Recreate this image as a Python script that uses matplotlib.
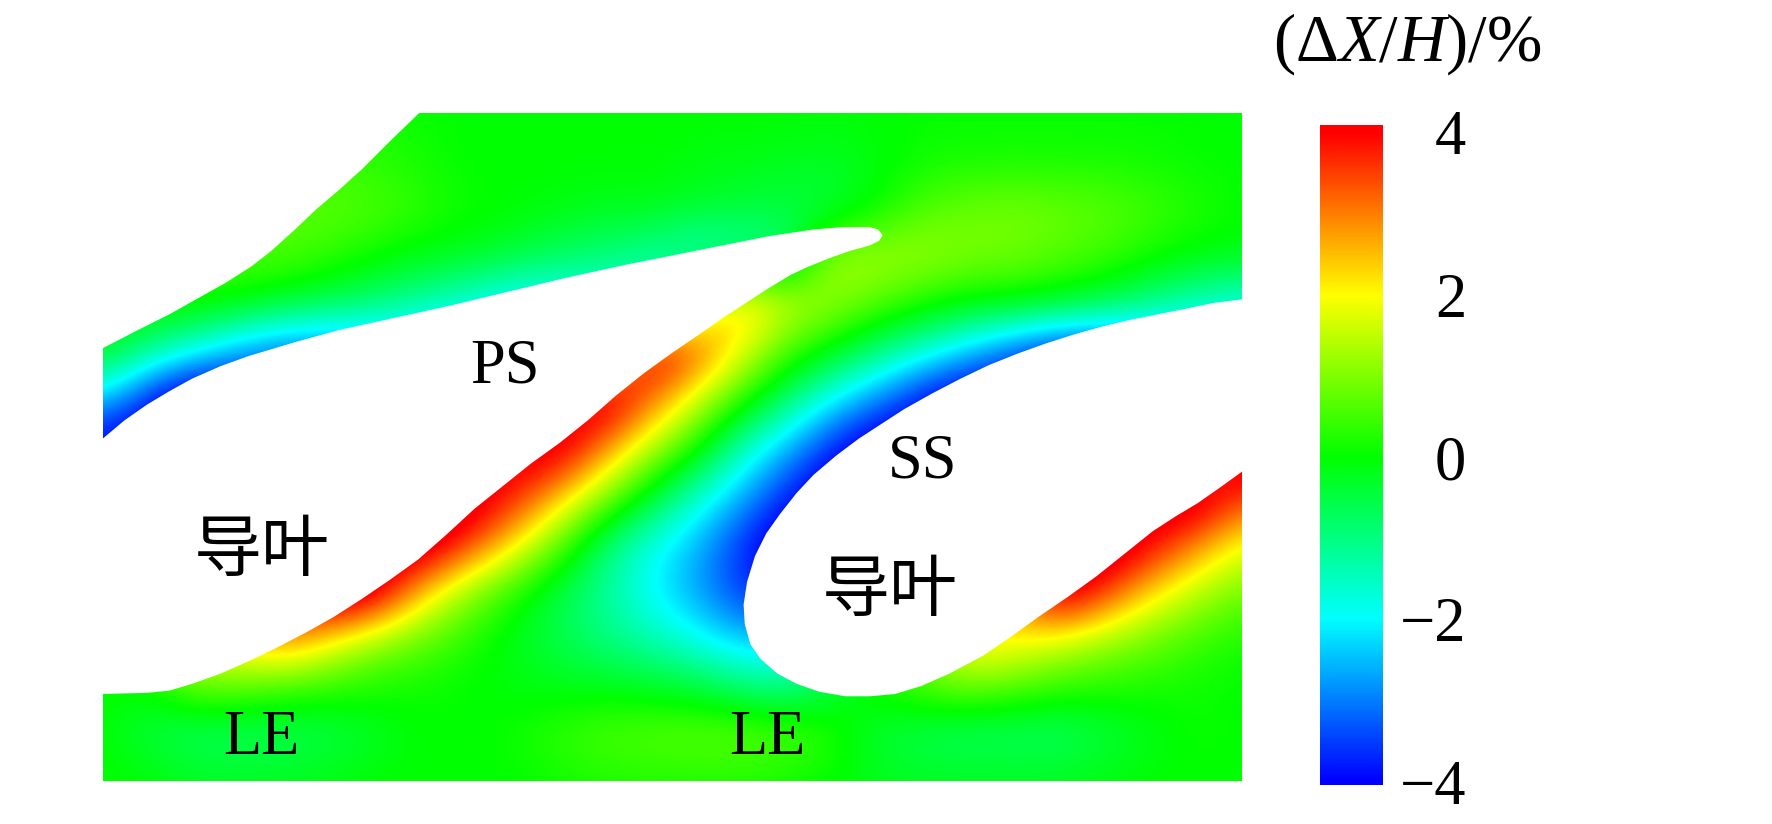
import numpy as np
import matplotlib
matplotlib.use("Agg")
import matplotlib.pyplot as plt
from matplotlib.colors import LinearSegmentedColormap, Normalize
from matplotlib.patches import Rectangle

plt.rcParams['font.family'] = ['Liberation Serif', 'Noto Sans CJK SC', 'DejaVu Sans']
plt.rcParams['mathtext.fontset'] = 'custom'
plt.rcParams['mathtext.rm'] = 'Liberation Serif'
plt.rcParams['mathtext.it'] = 'Liberation Serif:italic'

# x/y of the grid nodes, read in the 1568 wide picture
xs = [91, 131, 171, 211, 251, 291, 331, 371, 411, 451, 491, 531, 571, 611, 651, 691, 731, 771, 811, 851, 891, 931, 971, 1011, 1051, 1098]
ys = [100, 142, 184, 226, 268, 310, 352, 394, 437, 479, 521, 563, 606, 648, 691]

r100 = [.3, .3, .3, .3, .3, .3, .2, .05, 0, 0, 0, 0, 0, 0, 0, 0, -.05, 0, .05, .05, .05, .05, .05, .05, 0, 0]
r142 = [.4, .4, .4, .4, .4, .4, .3, .15, 0, 0, 0, 0, 0, -.1, -.15, -.2, -.25, -.1, .1, .15, .15, .15, .15, .1, .05, 0]
r184 = [.5, .5, .5, .6, .7, .7, .6, .35, .1, 0, -.1, -.2, -.15, -.3, -.4, -.5, -.5, 0, .6, .8, .9, .8, .7, .5, .25, .05]
r226 = [.5, .5, .5, .6, .6, .4, .1, -.1, -.2, -.4, -.7, -.9, -1.2, -1.6, -1.4, -1.0, 1.2, 1.3, 1.2, 1.0, .9, .7, .5, .2, 0, -.1]
r268 = [0, .1, .2, 0, -.3, -.6, -.9, -1.3, -1.7, -2.2, -2.2, -2.0, -1.8, 1.0, 2.6, 1.6, 1.2, .7, .3, 0, 0, -.2, -.5, -1.0, -1.5, -1.8]
r310 = [-.1, -1.0, -1.8, -2.7, -3.3, -3.3, -3, -3, -3, -3, -2, 1, 4.5, 3.5, 1.9, .6, -.1, -.9, -1.6, -2.4, -3.3, -4, -4, -3.5, -3, -2.6]
r352 = [-2.3, -3.9, -5, -4.5, -3.5, -3, -3, -2, 0, 2, 4, 4.8, 3.2, 1.7, .4, -.8, -2, -2.9, -4, -4.6, -4.5, -4.5, -4.5, -4, -3.5, -3]
r394 = [-4.5, -4.5, -4, -3, -2, 0, 1, 2, 3, 4.5, 4.6, 3.0, 1.5, .3, -1.4, -2.5, -3.7, -4.6, -4.5, -4, -3, -2, -1, 0, 2, 5]
r437 = [-2, -1, 0, 1, 2, 3, 4, 4.5, 4.8, 3.9, 2.6, 1.2, -.2, -1.5, -2.5, -3.7, -4.6, -4.5, -4, -3, -1, 1, 3, 4.5, 5, 3.6]
r479 = [1, 1, 1, 2, 3, 4, 4.5, 5, 3.7, 2.3, .8, -.8, -1.8, -2.5, -3.6, -4.6, -4, -3, -2, 0, 2, 4, 5, 4.2, 3.0, 1.9]
r521 = [1, 1, 2, 3, 4, 5.5, 4.7, 2.5, 1.2, .3, -.5, -1.2, -2, -2.7, -3.6, -4, -3, -2, -1, 1, 3, 5, 3.7, 2.3, 1.5, .9]
r563 = [.5, 1, 2, 2.5, 3.2, 2.1, 1.3, .8, .3, -.2, -.6, -1, -1.4, -1.9, -2.5, -2.5, -1, 0, 1, 2.5, 2.2, 1.8, 1.3, .9, .5, .2]
r606 = [0, 0, .9, .8, .5, .4, .2, .1, 0, -.1, -.2, -.2, -.3, -.5, -.9, -1.2, -.5, .2, .7, .9, .7, .4, .3, .2, .1, 0]
r648 = [0, -.5, -.8, -.8, -.7, -.6, -.3, 0, 0, .1, .4, .6, .7, .8, .8, .7, .3, -.4, -.7, -.8, -.8, -.8, -.5, -.2, .1, 0]
r691 = [0, 0, -.2, -.2, -.2, -.1, 0, 0, 0, 0, .1, .2, .2, .2, .2, .1, 0, -.2, -.2, -.2, -.2, -.2, -.1, 0, 0, 0]

# white areas
corner_x = [88, 88, 91, 120, 150, 175, 200, 222, 240, 260, 280, 300, 320, 345, 373]
corner_y = [98, 309, 308, 293, 278, 264, 250, 236, 222, 204, 185, 168, 150, 125, 98]
blade1_x = [88, 91, 110, 130, 150, 170, 195, 220, 260, 300, 350, 400, 450, 500, 550, 600, 640, 680, 720, 745, 770, 777, 781, 778, 770, 752, 735, 715, 700, 680, 660, 640, 620, 595, 570, 545, 520, 495, 470, 445, 420, 395, 370, 345, 320, 295, 270, 245, 220, 195, 170, 150, 130, 88]
blade1_y = [390, 388, 372, 358, 346, 335, 324, 315, 303, 292, 281, 270, 258, 246, 235, 225, 217, 209, 203, 201, 201, 203, 208, 213, 217, 222, 228, 236, 243, 255, 268, 281, 295, 312, 330, 350, 372, 392, 410, 430, 450, 473, 495, 513, 530, 546, 560, 573, 585, 596, 605, 611, 613, 614]
blade2_x = [1102, 1098, 1074, 1050, 1025, 1000, 975, 950, 925, 900, 875, 850, 825, 800, 780, 760, 740, 720, 705, 690, 678, 668, 661, 658, 659, 664, 673, 688, 705, 725, 748, 770, 792, 815, 840, 870, 895, 920, 945, 970, 995, 1020, 1040, 1060, 1080, 1098, 1102]
blade2_y = [264, 265, 268, 273, 278, 283, 289, 296, 304, 313, 323, 335, 348, 362, 375, 388, 403, 420, 436, 455, 472, 492, 515, 535, 552, 570, 583, 596, 605, 612, 616, 616, 614, 607, 596, 580, 563, 545, 528, 510, 490, 470, 457, 445, 431, 418, 415]

cmap_colors = ['#0000ff', '#00ffff', '#00ff00', '#ffff00', '#ff0000']
tick_vals = [-4, -2, 0, 2, 4]
tick_labels = ['\u22124', '\u22122', '0', '2', '4']

field = np.array([r100, r142, r184, r226, r268, r310, r352, r394, r437, r479, r521, r563, r606, r648, r691])
cmap = LinearSegmentedColormap.from_list('dx', cmap_colors, N=512)
norm = Normalize(-4, 4)

fig = plt.figure(figsize=(17.72, 8.24), dpi=100)
ax = fig.add_axes([0, 0, 1, 1])
ax.axis('off')

dx = (xs[-1] - xs[0]) / (len(xs) - 1) / 2
dy = (ys[-1] - ys[0]) / (len(ys) - 1) / 2
im = ax.imshow(field, cmap=cmap, norm=norm, interpolation='bicubic', aspect='auto',
               extent=[xs[0] - dx, xs[-1] + dx, ys[-1] + dy, ys[0] - dy])
im.set_clip_path(Rectangle((xs[0], ys[0]), xs[-1] - xs[0], ys[-1] - ys[0], transform=ax.transData))
ax.set_xlim(0, 1568)
ax.set_ylim(729, 0)

ax.fill(corner_x, corner_y, color='white', lw=0)
ax.fill(blade1_x, blade1_y, color='white', lw=0)
ax.fill(blade2_x, blade2_y, color='white', lw=0)

ax.text(447, 325, 'PS', fontsize=45, ha='center', va='center')
ax.text(816, 409, 'SS', fontsize=45, ha='center', va='center')
ax.text(231, 654, 'LE', fontsize=45, ha='center', va='center')
ax.text(679, 654, 'LE', fontsize=45, ha='center', va='center')
ax.text(232, 488, '导叶', fontsize=49, ha='center', va='center', family=['Noto Sans CJK SC'])
ax.text(787, 524, '导叶', fontsize=49, ha='center', va='center', family=['Noto Sans CJK SC'])
ax.text(1245, 39, '(\u0394$\\mathit{X}$/$\\mathit{H}$)/%', fontsize=48, ha='center', va='center')

# colour bar
cax = fig.add_axes([1320 / 1772, 1 - 785 / 824, 63 / 1772, 660 / 824])
grad = np.linspace(4.09, -4.04, 400).reshape(-1, 1)
cax.imshow(grad, cmap=cmap, norm=norm, aspect='auto', extent=[0, 1, -4.04, 4.09])
cax.set_xticks([])
cax.yaxis.tick_right()
cax.set_yticks(tick_vals)
cax.set_yticklabels(tick_labels, fontsize=45, ha='right')
cax.tick_params(axis='y', length=0, pad=60)
for s in cax.spines.values():
    s.set_visible(False)

fig.savefig('out.png', dpi=100)
